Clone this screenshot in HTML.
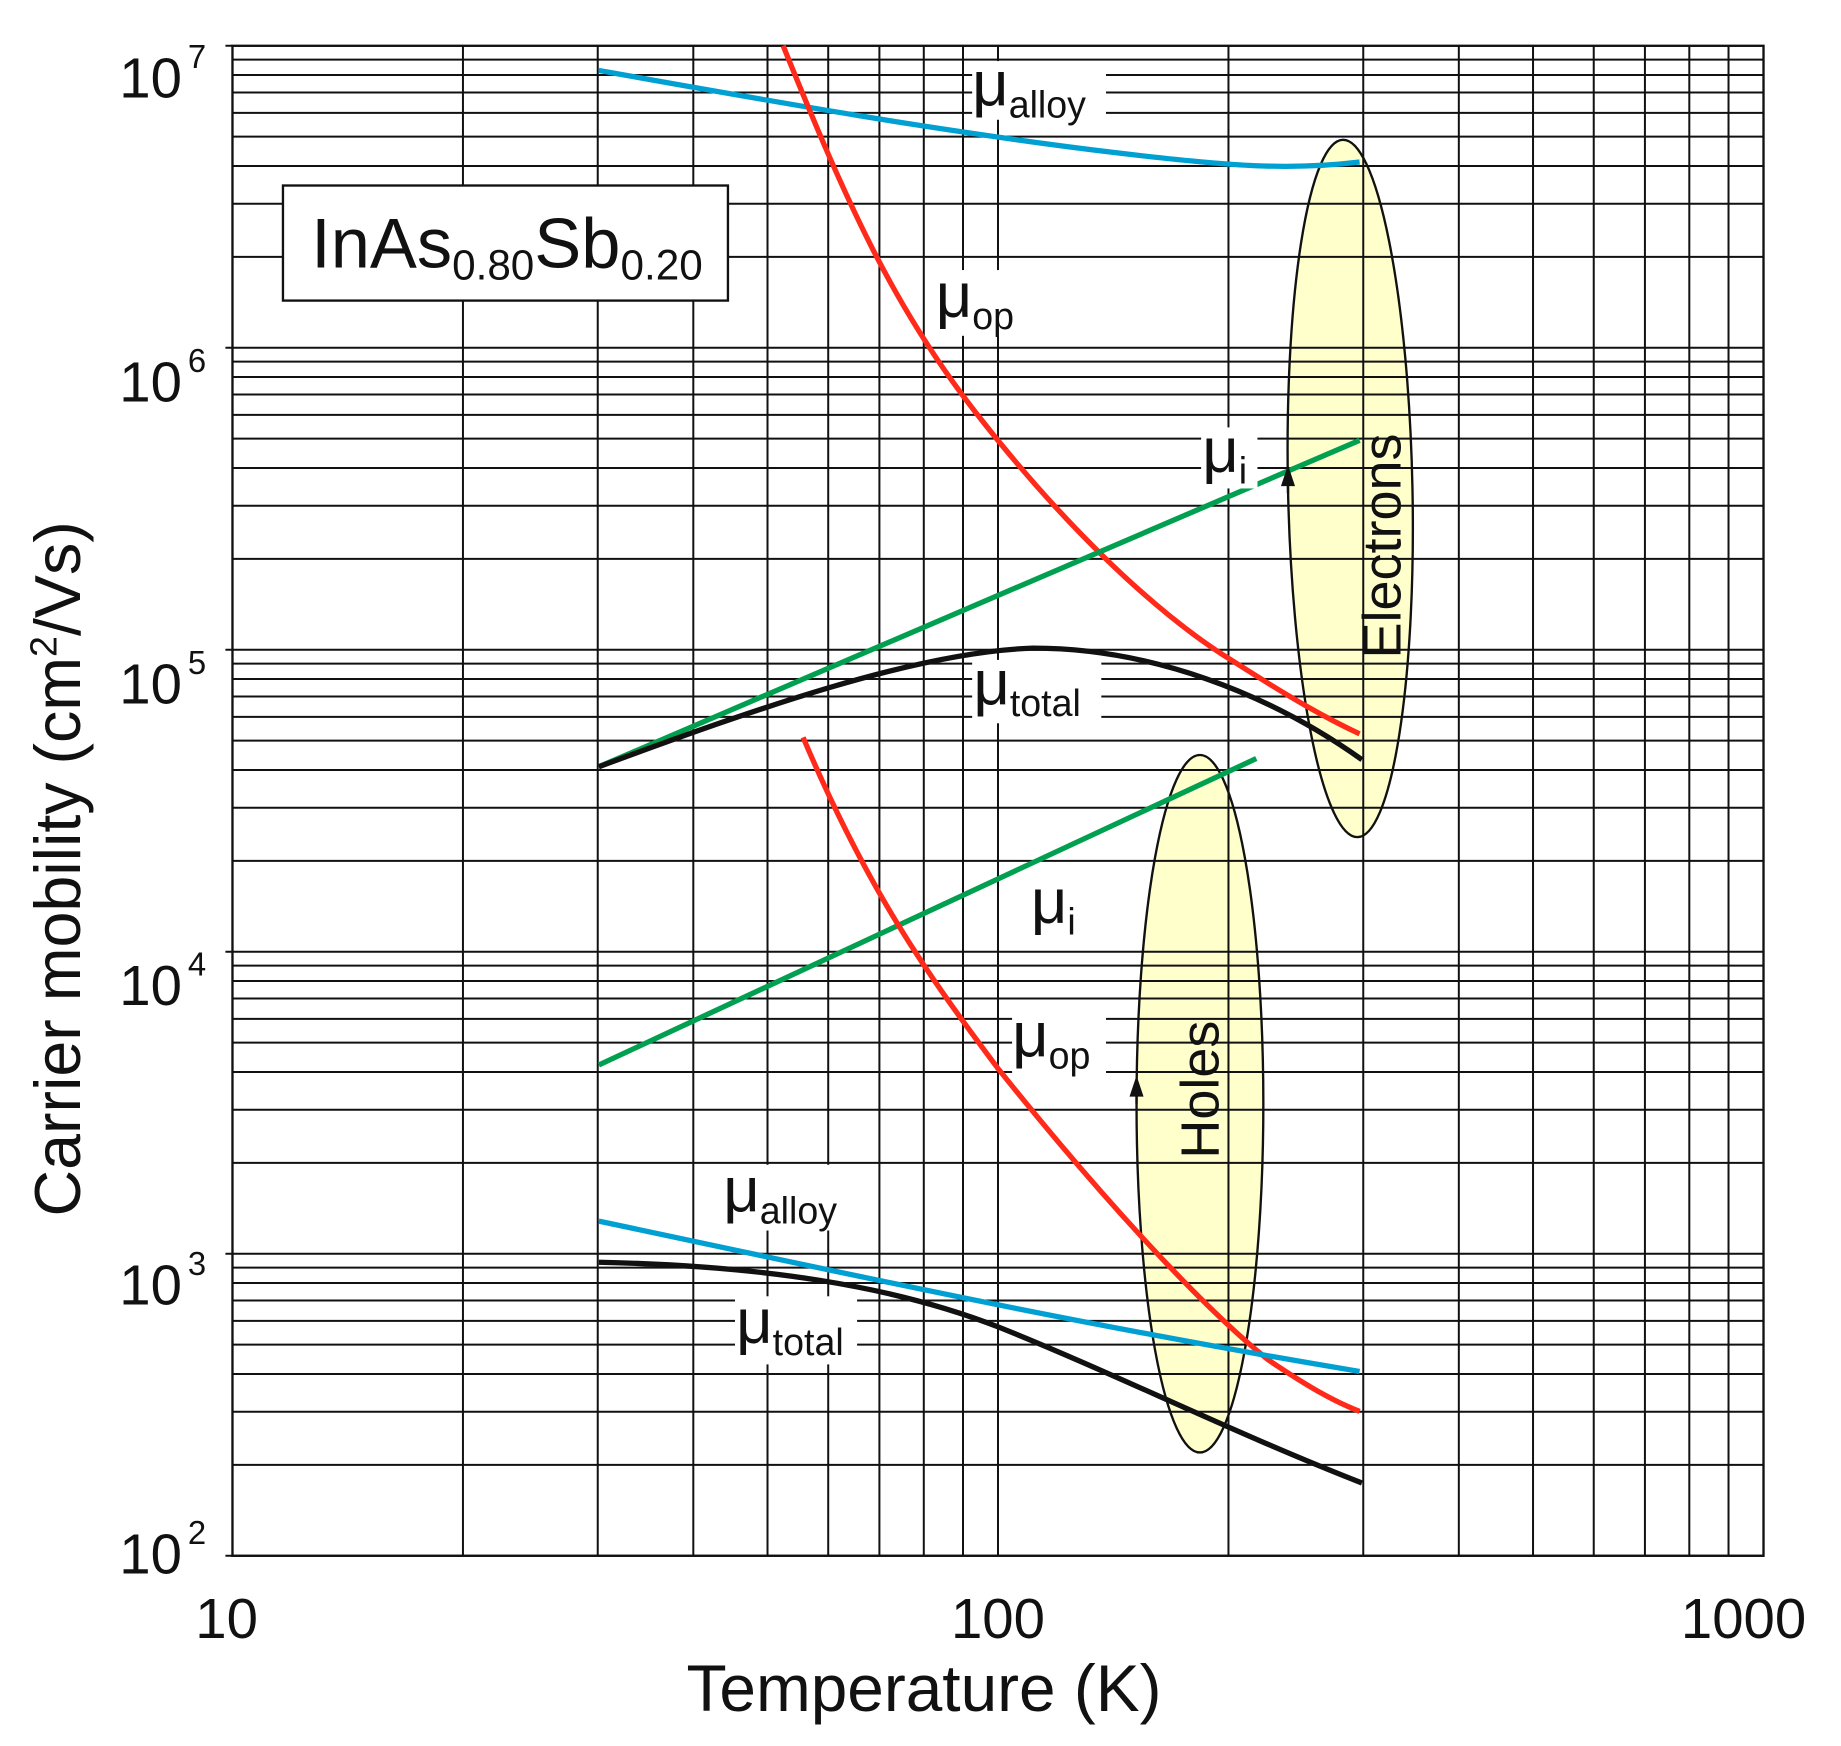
<!DOCTYPE html>
<html><head><meta charset="utf-8"><style>
html,body{margin:0;padding:0;background:#fff;}
svg{display:block;}
text{font-family:"Liberation Sans",sans-serif;fill:#111;}
</style></head><body>
<svg width="1841" height="1746" viewBox="0 0 1568 1487" preserveAspectRatio="none" xmlns="http://www.w3.org/2000/svg">
<ellipse cx="1150" cy="416" rx="53" ry="297" fill="#ffffcc" transform="rotate(-1.2 1150 416)"/>
<ellipse cx="1022" cy="940" rx="54" ry="297" fill="#ffffcc"/>
<g id="grid" stroke="#111" stroke-width="1.7" fill="none"></g>
<rect x="198" y="39" width="1304" height="1286" fill="none" stroke="#111" stroke-width="2"/>
<ellipse cx="1150" cy="416" rx="53" ry="297" fill="none" stroke="#111" stroke-width="2" transform="rotate(-1.2 1150 416)"/>
<ellipse cx="1022" cy="940" rx="54" ry="297" fill="none" stroke="#111" stroke-width="2"/>
<g fill="none" stroke-width="4.5" stroke-linecap="butt">
<path stroke="#00a0d2" d="M510,60 C650,85 800,112 950,130 C1050,142 1100,145 1158,138"/>
<path stroke="#ff2a1a" d="M667,39 C720,170 760,260 830,350 C900,440 980,520 1050,563 C1100,595 1130,612 1158,625"/>
<path stroke="#00a050" d="M510,653 L1158,375"/>
<path stroke="#111" d="M510,653 C640,605 780,555 880,552 C980,552 1080,590 1160,647"/>
<path stroke="#00a050" d="M510,907 L1070,646"/>
<path stroke="#ff2a1a" d="M684,628 C740,760 790,830 850,910 C930,1010 1020,1110 1080,1158 C1120,1185 1140,1195 1158,1202"/>
<path stroke="#00a0d2" d="M510,1040 C700,1080 900,1125 1158,1168"/>
<path stroke="#111" d="M510,1075 C650,1078 760,1095 850,1130 C950,1170 1050,1220 1160,1263"/>
</g>
<g stroke="#111" stroke-width="2"><line x1="1097" y1="400" x2="1097" y2="420"/><line x1="968" y1="920" x2="968" y2="940"/></g>
<polygon points="1097,396 1091,414 1103,414" fill="#111"/>
<polygon points="968,916 962,934 974,934" fill="#111"/>
<g fill="#fff">
<rect x="828" y="52" width="114" height="50"/>
<rect x="796" y="230" width="82" height="56"/>
<rect x="1023" y="364" width="48" height="52"/>
<rect x="828" y="562" width="110" height="54"/>
<rect x="878" y="745" width="48" height="56"/>
<rect x="862" y="855" width="80" height="60"/>
<rect x="615" y="992" width="112" height="56"/>
<rect x="626" y="1104" width="104" height="58"/>
</g>
<g font-size="54">
<text x="828" y="90">μ<tspan font-size="32" dy="10">alloy</tspan></text>
<text x="797" y="270">μ<tspan font-size="32" dy="10">op</tspan></text>
<text x="1024" y="402">μ<tspan font-size="32" dy="10">i</tspan></text>
<text x="829" y="600">μ<tspan font-size="32" dy="10">total</tspan></text>
<text x="878" y="786">μ<tspan font-size="32" dy="10">i</tspan></text>
<text x="862" y="900">μ<tspan font-size="32" dy="10">op</tspan></text>
<text x="616" y="1032">μ<tspan font-size="32" dy="10">alloy</tspan></text>
<text x="627" y="1144">μ<tspan font-size="32" dy="10">total</tspan></text>
</g>
<text font-size="46" transform="translate(1193,465) rotate(-90)" text-anchor="middle">Electrons</text>
<text font-size="46" transform="translate(1038,928) rotate(-90)" text-anchor="middle">Holes</text>
<rect x="241" y="158" width="379" height="98" fill="#fff" stroke="#111" stroke-width="2"/>
<text x="265" y="228" font-size="60">InAs<tspan font-size="36" dy="10">0.80</tspan><tspan dy="-10">Sb</tspan><tspan font-size="36" dy="10">0.20</tspan></text>
<g font-size="48" text-anchor="end">
<text x="155" y="83">10</text><text x="160" y="58" font-size="28" text-anchor="start">7</text>
<text x="155" y="342">10</text><text x="160" y="317" font-size="28" text-anchor="start">6</text>
<text x="155" y="599">10</text><text x="160" y="574" font-size="28" text-anchor="start">5</text>
<text x="155" y="856">10</text><text x="160" y="831" font-size="28" text-anchor="start">4</text>
<text x="155" y="1111">10</text><text x="160" y="1086" font-size="28" text-anchor="start">3</text>
<text x="155" y="1340">10</text><text x="160" y="1315" font-size="28" text-anchor="start">2</text>
</g>
<g font-size="48" text-anchor="middle">
<text x="193" y="1395">10</text>
<text x="850" y="1395">100</text>
<text x="1485" y="1395">1000</text>
</g>
<text x="787" y="1457" font-size="56" text-anchor="middle">Temperature (K)</text>
<text font-size="55" transform="translate(68,740) rotate(-90)" text-anchor="middle">Carrier mobility (cm<tspan font-size="32" dy="-20">2</tspan><tspan dy="20">/Vs)</tspan></text>
<script>
(function(){
var g=document.getElementById('grid'),s='';
for(var d=0;d<2;d++)for(var k=1;k<10;k++){if(d==0&&k==1)continue;var x=198+652*(d+Math.log10(k));s+='M'+x.toFixed(1)+',39V1325';}
for(var d=0;d<5;d++)for(var k=1;k<10;k++){var y=1325-257.2*(d+Math.log10(k));s+='M198,'+y.toFixed(1)+'H1502';}
for(var d=0;d<6;d++){var y=1325-257.2*d;s+='M192,'+y.toFixed(1)+'H198';}
var p=document.createElementNS('http://www.w3.org/2000/svg','path');p.setAttribute('d',s);g.appendChild(p);
})();
</script>
</svg>
</body></html>
